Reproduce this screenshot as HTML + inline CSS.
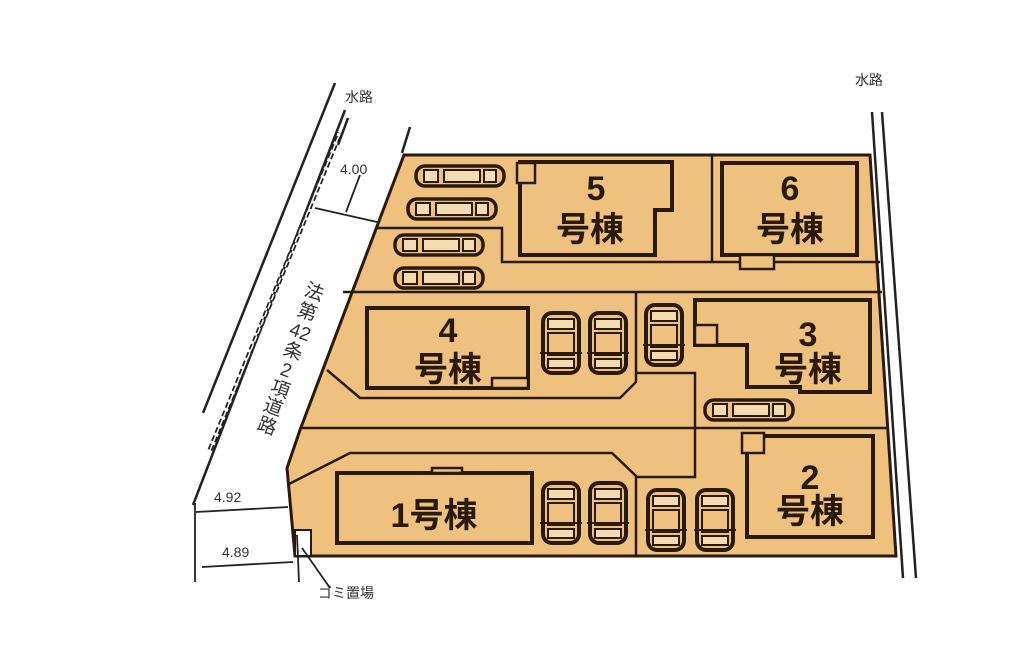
<!DOCTYPE html>
<html><head><meta charset="utf-8"><style>
html,body{margin:0;padding:0;background:#fff;}
svg{display:block;}
text{font-family:"Liberation Sans","Noto Sans CJK JP",sans-serif;}
.b{font-weight:bold;font-size:34px;fill:#2a1a0e;}
.s{font-size:14px;fill:#333;}
</style></head><body>
<svg width="1024" height="647" viewBox="0 0 1024 647" xmlns="http://www.w3.org/2000/svg">
<defs>
<g id="hc">
<rect x="0" y="0" width="88" height="20" rx="9" fill="#efc17e" stroke="#2a1a0e" stroke-width="3.5"/>
<rect x="8" y="4" width="14" height="12" fill="#f5dcb0" stroke="#2a1a0e" stroke-width="2"/>
<rect x="28" y="4" width="36" height="12" fill="#f5dcb0" stroke="#2a1a0e" stroke-width="2"/>
<rect x="68" y="4" width="12" height="12" fill="#f5dcb0" stroke="#2a1a0e" stroke-width="2"/>
</g>
<g id="vc">
<rect x="0" y="0" width="36" height="60" rx="9" fill="#efc17e" stroke="#2a1a0e" stroke-width="4"/>
<rect x="5" y="6" width="26" height="10" fill="#f5dcb0" stroke="#2a1a0e" stroke-width="2"/>
<rect x="5" y="20" width="26" height="22" fill="#efc17e" stroke="#2a1a0e" stroke-width="2"/>
<rect x="5" y="46" width="26" height="9" fill="#f5dcb0" stroke="#2a1a0e" stroke-width="2"/>
<line x1="-3" y1="40" x2="39" y2="40" stroke="#2a1a0e" stroke-width="2"/>
</g>
</defs>
<polygon points="404,155 870,155 896,556 295,556 289,490 287,468 300,430" fill="#efc17e" stroke="#2a1a0e" stroke-width="3"/>
<g stroke="#2a1a0e" stroke-width="2.5" fill="none">
<polyline points="377,228 502,228 502,262 880,262"/>
<line x1="712" y1="155" x2="712" y2="262"/>
<line x1="343" y1="292" x2="882" y2="292"/>
<polyline points="327,370 360,398 620,398 636,382 636,292"/>
<polyline points="636,373 695,373 695,477 636,477"/>
<line x1="300" y1="428" x2="888" y2="428"/>
<polyline points="289,484 350,453 612,453 636,476 636,556"/>
</g>
<g fill="#efc17e" stroke="#2a1a0e" stroke-width="4">
<polygon points="520,162 672,162 672,210 655,210 655,255 520,255"/>
<rect x="722" y="163" width="135" height="92"/>
<rect x="367" y="308" width="161" height="80"/>
<rect x="337" y="473" width="195" height="70"/>
<rect x="747" y="436" width="126" height="101"/>
<polygon points="695,300 870,300 870,392 800,392 800,387 747,387 747,345 695,345"/>
</g>
<g fill="#efc17e" stroke="#2a1a0e" stroke-width="2.5">
<rect x="517" y="163" width="18" height="20"/>
<rect x="740" y="255" width="34" height="14"/>
<rect x="695" y="325" width="22" height="20"/>
<rect x="742" y="433" width="22" height="20"/>
<rect x="492" y="378" width="36" height="10"/>
<rect x="432" y="468" width="30" height="5"/>
</g>
<rect x="295" y="530" width="16" height="26" fill="#fff" stroke="#2a1a0e" stroke-width="2"/>
<use href="#hc" x="416" y="166"/>
<use href="#hc" x="408" y="199"/>
<use href="#hc" x="395" y="235"/>
<use href="#hc" x="395" y="268"/>
<use href="#hc" x="705" y="400"/>
<use href="#vc" x="543" y="313"/>
<use href="#vc" x="590" y="313"/>
<use href="#vc" x="646" y="305"/>
<use href="#vc" x="543" y="483"/>
<use href="#vc" x="590" y="483"/>
<use href="#vc" x="648" y="490"/>
<use href="#vc" x="697" y="490"/>
<text class="b" x="596" y="200" text-anchor="middle">5</text>
<text class="b" x="590" y="241" text-anchor="middle">号棟</text>
<text class="b" x="790" y="200" text-anchor="middle">6</text>
<text class="b" x="790" y="241" text-anchor="middle">号棟</text>
<text class="b" x="448" y="342" text-anchor="middle">4</text>
<text class="b" x="448" y="381" text-anchor="middle">号棟</text>
<text class="b" x="808" y="346" text-anchor="middle">3</text>
<text class="b" x="808" y="381" text-anchor="middle">号棟</text>
<text class="b" x="434" y="527" text-anchor="middle">1号棟</text>
<text class="b" x="810" y="489" text-anchor="middle">2</text>
<text class="b" x="810" y="523" text-anchor="middle">号棟</text>
<g stroke="#222" stroke-width="2.5" fill="none">
<line x1="203" y1="413" x2="335" y2="83"/>
<line x1="193" y1="505" x2="345" y2="110"/>
<line x1="410" y1="127" x2="402" y2="153"/>
<line x1="348" y1="118" x2="338" y2="145"/>
<line x1="872" y1="112" x2="903" y2="578"/>
<line x1="882" y1="112" x2="916" y2="578"/>
</g>
<line x1="210" y1="450" x2="340" y2="133" stroke="#222" stroke-width="5" stroke-dasharray="6,3"/>
<line x1="210" y1="450" x2="340" y2="133" stroke="#fff" stroke-width="1.5" stroke-dasharray="6,3"/>
<g stroke="#222" stroke-width="1.8" fill="none">
<line x1="315" y1="208" x2="377" y2="222"/>
<line x1="360" y1="175" x2="346" y2="212"/>
<line x1="195" y1="503" x2="195" y2="582"/>
<line x1="297" y1="535" x2="299" y2="582"/>
<line x1="196" y1="512" x2="288" y2="507"/>
<line x1="202" y1="567" x2="293" y2="562"/>
<line x1="302" y1="548" x2="330" y2="588"/>
</g>
<text class="s" x="340" y="174">4.00</text>
<text class="s" x="214" y="502">4.92</text>
<text class="s" x="222" y="557">4.89</text>
<text class="s" x="318" y="598">ゴミ置場</text>
<text class="s" x="345" y="102">水路</text>
<text class="s" x="855" y="85">水路</text>
<g font-size="19" fill="#333" font-family="Liberation Sans, Noto Sans CJK JP, sans-serif">
<text transform="translate(312,298) rotate(20)" text-anchor="middle">法</text>
<text transform="translate(305,318) rotate(20)" text-anchor="middle">第</text>
<text transform="translate(298,338) rotate(20)" text-anchor="middle">42</text>
<text transform="translate(291,357) rotate(20)" text-anchor="middle">条</text>
<text transform="translate(284,376) rotate(20)" text-anchor="middle">2</text>
<text transform="translate(278,395) rotate(20)" text-anchor="middle">項</text>
<text transform="translate(271,413) rotate(20)" text-anchor="middle">道</text>
<text transform="translate(265,432) rotate(20)" text-anchor="middle">路</text>
</g>
</svg>
</body></html>
